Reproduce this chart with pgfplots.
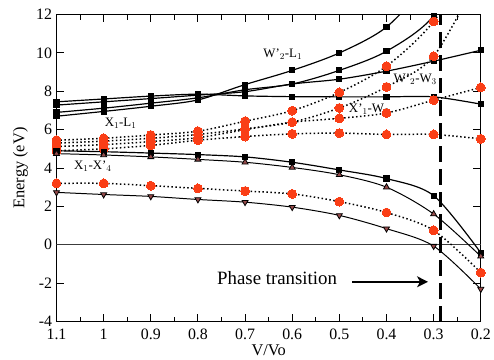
\documentclass[border=0pt]{standalone}
\usepackage{fontspec}
\setmainfont{Liberation Serif}
\usepackage{pgfplots}
\pgfplotsset{compat=1.18}
\usetikzlibrary{arrows.meta}
\definecolor{dotred}{RGB}{250,62,22}
\definecolor{trifill}{RGB}{150,75,75}
\pgfplotsset{
  reddot/.style={black, line width=1.5pt, dash pattern=on 1.5pt off 2.5pt, smooth, mark=*, mark size=4.5pt, mark options={solid, draw=dotred, fill=dotred, line width=0pt}},
  sqline/.style={black, line width=1.2pt, smooth, mark=square*, mark size=2.5pt},
}
\begin{document}
\begin{tikzpicture}
\begin{axis}[
  scale only axis, width=428pt, height=309.6pt,
  x dir=reverse, xmin=0.2, xmax=1.1, ymin=-4, ymax=12,
  xtick={0.2,0.3,0.4,0.5,0.6,0.7,0.8,0.9,1,1.1},
  xticklabels={0.2,0.3,0.4,0.5,0.6,0.7,0.8,0.9,1,1.1},
  ytick={-4,-2,0,2,4,6,8,10,12},
  yticklabels={-4,-2,0,2,4,6,8,10,12},
  minor x tick num=1,
  tick align=inside,
  major tick length=8pt, minor tick length=5pt,
  every tick/.style={black, line width=1pt},
  axis line style={line width=1.3pt},
  tick label style={font=\fontsize{16}{18}\selectfont},
  xticklabel style={yshift=-4.5pt},
  yticklabel style={xshift=-1pt},
  xlabel={V/Vo}, ylabel={Energy (eV)},
  label style={font=\fontsize{16.5}{18}\selectfont},
  xlabel style={at={(axis description cs:0.5,-0.094)}, anchor=center},
  ylabel style={at={(axis description cs:-0.085,0.5)}, anchor=center, rotate=0},
]
% zero line
\addplot[color={rgb,255:red,60;green,60;blue,60}, line width=1.3pt] coordinates {(1.1,0) (0.2,0)};
% upper solid (squares)
\addplot[sqline, mark indices={1,...,8}] coordinates {
(1.1,6.70) (1.0,6.95) (0.9,7.22) (0.8,7.55) (0.7,8.35) (0.6,9.09) (0.5,10.0) (0.4,11.35) (0.3,13.9)};
\addplot[sqline, mark indices={1,...,9}] coordinates {
(1.1,6.90) (1.0,7.12) (0.9,7.38) (0.8,7.66) (0.7,8.08) (0.6,8.38) (0.5,9.09) (0.4,10.09) (0.3,11.93) (0.2,16.0)};
\addplot[sqline] coordinates {
(1.1,7.28) (1.0,7.45) (0.9,7.62) (0.8,7.80) (0.7,7.98) (0.6,8.38) (0.5,8.63) (0.4,9.05) (0.3,9.57) (0.2,10.14)};
\addplot[sqline] coordinates {
(1.1,7.45) (1.0,7.60) (0.9,7.75) (0.8,7.85) (0.7,7.76) (0.6,7.72) (0.5,7.71) (0.4,7.71) (0.3,7.71) (0.2,7.33)};
% upper dotted (circles)
\addplot[reddot, mark indices={1,...,9}] coordinates {
(1.1,5.45) (1.0,5.55) (0.9,5.72) (0.8,5.92) (0.7,6.44) (0.6,6.99) (0.5,7.94) (0.4,9.31) (0.3,11.64) (0.2,15.5)};
\addplot[reddot, mark indices={1,...,9}] coordinates {
(1.1,5.30) (1.0,5.40) (0.9,5.55) (0.8,5.75) (0.7,6.04) (0.6,6.39) (0.5,7.13) (0.4,8.23) (0.3,9.83) (0.2,14.2)};
\addplot[reddot] coordinates {
(1.1,5.12) (1.0,5.22) (0.9,5.38) (0.8,5.58) (0.7,6.00) (0.6,6.39) (0.5,6.59) (0.4,6.87) (0.3,7.54) (0.2,8.20)};
\addplot[reddot] coordinates {
(1.1,4.90) (1.0,5.00) (0.9,5.18) (0.8,5.45) (0.7,5.64) (0.6,5.78) (0.5,5.82) (0.4,5.75) (0.3,5.75) (0.2,5.52)};
% lower group
\addplot[sqline] coordinates {
(1.1,4.90) (1.0,4.85) (0.9,4.78) (0.8,4.70) (0.7,4.58) (0.6,4.30) (0.5,3.90) (0.4,3.45) (0.3,2.56) (0.2,-0.42)};
\addplot[black, line width=1pt, smooth, mark=triangle*, mark size=3.5pt, mark options={draw=black, fill=trifill, line width=0.8pt}] coordinates {
(1.1,4.75) (1.0,4.68) (0.9,4.58) (0.8,4.45) (0.7,4.30) (0.6,4.03) (0.5,3.65) (0.4,3.00) (0.3,1.60) (0.2,-0.60)};
\addplot[reddot] coordinates {
(1.1,3.20) (1.0,3.20) (0.9,3.08) (0.8,2.94) (0.7,2.80) (0.6,2.65) (0.5,2.25) (0.4,1.68) (0.3,0.75) (0.2,-1.45)};
\addplot[black, line width=1pt, smooth, mark=triangle*, mark size=3.5pt, mark options={draw=black, fill=trifill, line width=0.8pt, rotate=180}] coordinates {
(1.1,2.73) (1.0,2.62) (0.9,2.52) (0.8,2.36) (0.7,2.22) (0.6,1.96) (0.5,1.53) (0.4,0.84) (0.3,-0.07) (0.2,-2.31)};
% phase transition line
\addplot[black, line width=3pt, dash pattern=on 16pt off 7pt] coordinates {(0.286,-4) (0.286,12)};
% annotations
\node[font=\fontsize{13}{14}\selectfont] at (axis cs:0.62,9.95) {W'$_2$-L$_1$};
\node[font=\fontsize{13}{14}\selectfont] at (axis cs:0.964,6.33) {X$_1$-L$_1$};
\node[font=\fontsize{13}{14}\selectfont] at (axis cs:1.023,4.08) {X$_1$-X'$_4$};
\node[font=\fontsize{13}{14}\selectfont] at (axis cs:0.339,8.63) {W'$_2$-W$_3$};
\node[font=\fontsize{13}{14}\selectfont] at (axis cs:0.437,7.07) {X'$_1$-W$_3$};
\node[font=\fontsize{19}{21}\selectfont] at (axis cs:0.632,-1.76) {Phase transition};
\draw[line width=1.5pt, -{Stealth[length=11pt,width=11pt,inset=3pt]}] (axis cs:0.473,-1.93) -- (axis cs:0.312,-1.93);
\end{axis}
\path[use as bounding box] ([xshift=-57pt,yshift=-33.7pt]current axis.south west) rectangle ([xshift=9pt,yshift=14.7pt]current axis.north east);
\end{tikzpicture}
\end{document}
